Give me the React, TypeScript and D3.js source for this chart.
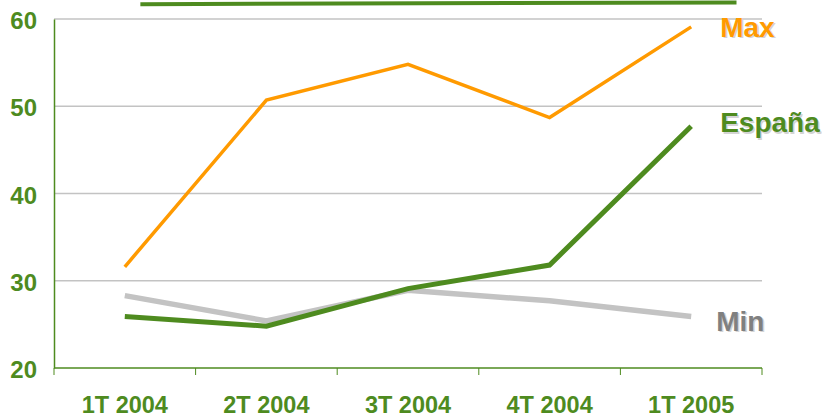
import { useEffect, useRef } from 'react';
import * as d3 from 'd3';

const categorias = ['1T 2004', '2T 2004', '3T 2004', '4T 2004', '1T 2005'];
const maxValues = [31.6, 50.7, 54.8, 48.7, 59.1];
const espanaValues = [25.9, 24.8, 29.1, 31.8, 47.7];
const minValues = [28.3, 25.4, 28.9, 27.7, 25.9];
const yTicks = [20, 30, 40, 50, 60];
// barra verde superior (en índice de categoría y valor)
const topBarIdx = [0.11, 4.32];
const topBarValues = [61.7, 61.9];

const GREEN = '#4e8b1f';
const ORANGE = '#ff9a00';
const GRAY = '#c3c3c3';

export default function App() {
  const ref = useRef<SVGSVGElement | null>(null);

  useEffect(() => {
    const width = 822;
    const height = 418;
    const margin = { top: 19, right: 60, bottom: 50, left: 54 };

    d3.select(ref.current).selectAll('*').remove();
    const svg = d3.select(ref.current)
      .attr('width', width)
      .attr('height', height)
      .style('font-family', '"Liberation Sans", Arial, sans-serif');

    const x = d3.scaleBand<string>()
      .domain(categorias)
      .range([margin.left, width - margin.right]);
    const xi = (i: number) => (x(categorias[0]) as number) + x.bandwidth() / 2 + i * x.step();

    const y = d3.scaleLinear()
      .domain([20, 60])
      .range([height - margin.bottom, margin.top]);

    // Rejilla
    svg.append('g')
      .selectAll('line')
      .data(yTicks.filter(d => d > 20))
      .enter().append('line')
      .attr('x1', margin.left)
      .attr('x2', width - margin.right)
      .attr('y1', d => y(d))
      .attr('y2', d => y(d))
      .attr('stroke', GRAY)
      .attr('stroke-width', 1.5);

    // Ejes
    const yAxis = svg.append('g')
      .attr('transform', `translate(${margin.left},0)`)
      .call(d3.axisLeft(y).tickValues(yTicks).tickSize(0).tickPadding(17).tickFormat(d3.format('d')));
    yAxis.select('.domain').attr('stroke', GREEN).attr('stroke-width', 1.5);
    yAxis.selectAll('text')
      .attr('fill', GREEN)
      .attr('font-size', 24)
      .attr('font-weight', 'bold')
      .attr('dy', '0.4em')
      .attr('font-family', '"Liberation Sans", Arial, sans-serif');

    const xAxisG = svg.append('g')
      .attr('transform', `translate(0,${y(20)})`);
    xAxisG.append('line')
      .attr('x1', margin.left)
      .attr('x2', width - margin.right)
      .attr('stroke', GREEN)
      .attr('stroke-width', 1.5);
    xAxisG.selectAll('line.tick')
      .data(d3.range(categorias.length + 1))
      .enter().append('line')
      .attr('class', 'tick')
      .attr('x1', d => margin.left + d * x.step())
      .attr('x2', d => margin.left + d * x.step())
      .attr('y1', 0)
      .attr('y2', 7)
      .attr('stroke', GREEN)
      .attr('stroke-width', 1);
    xAxisG.selectAll('text')
      .data(categorias)
      .enter().append('text')
      .attr('x', d => (x(d) as number) + x.bandwidth() / 2)
      .attr('y', 45)
      .attr('text-anchor', 'middle')
      .attr('fill', GREEN)
      .attr('font-size', 23.5)
      .attr('font-weight', 'bold')
      .text(d => d);

    const line = d3.line<number>()
      .x((_, i) => xi(i))
      .y(d => y(d));

    // Barra superior
    svg.append('path')
      .datum(topBarValues)
      .attr('fill', 'none')
      .attr('stroke', GREEN)
      .attr('stroke-width', 4)
      .attr('d', d3.line<number>().x((_, i) => xi(topBarIdx[i])).y(d => y(d)));

    const series = [
      { name: 'Min', values: minValues, color: GRAY, width: 5.5, label: '#808080', dx: 25, dy: 14 },
      { name: 'España', values: espanaValues, color: GREEN, width: 5, label: GREEN, dx: 29, dy: 6 },
      { name: 'Max', values: maxValues, color: ORANGE, width: 3.5, label: ORANGE, dx: 29, dy: 10 },
    ];

    series.forEach(s => {
      svg.append('path')
        .datum(s.values)
        .attr('fill', 'none')
        .attr('stroke', s.color)
        .attr('stroke-width', s.width)
        .attr('stroke-linejoin', 'miter')
        .attr('d', line);
    });

    // Etiquetas de serie con sombra
    series.forEach(s => {
      const last = s.values[s.values.length - 1];
      const lx = xi(s.values.length - 1) + s.dx;
      const ly = y(last) + s.dy;
      svg.append('text')
        .attr('x', lx + 1.5)
        .attr('y', ly + 1.5)
        .attr('fill', '#d4d4d4')
        .attr('font-size', 28)
        .attr('font-weight', 'bold')
        .text(s.name);
      svg.append('text')
        .attr('x', lx)
        .attr('y', ly)
        .attr('fill', s.label)
        .attr('font-size', 28)
        .attr('font-weight', 'bold')
        .text(s.name);
    });
  }, []);

  return <svg ref={ref} style={{ position: 'absolute', left: 0, top: 0 }}></svg>;
}
